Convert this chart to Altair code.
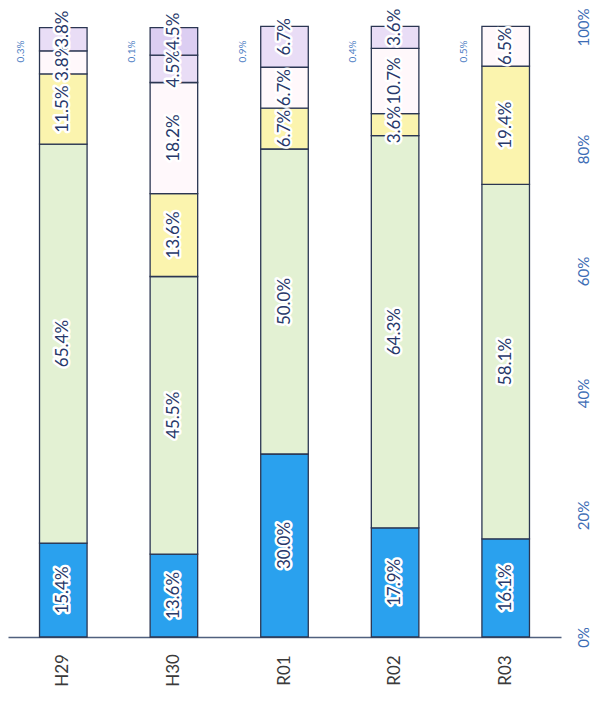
import altair as alt
import pandas as pd

years = ["H29", "H30", "R01", "R02", "R03"]

# segment values (%) from bottom to top, per year
vals_H29 = [15.4, 65.4, 11.5, 3.8, 3.8]
vals_H30 = [13.6, 45.5, 13.6, 18.2, 4.5, 4.5]
vals_R01 = [30.0, 50.0, 6.7, 6.7, 6.7]
vals_R02 = [17.9, 64.3, 3.6, 10.7, 3.6]
vals_R03 = [16.1, 58.1, 19.4, 6.5]

kinds_H29 = ["b", "g", "y", "w", "l"]
kinds_H30 = ["b", "g", "y", "w", "l", "l2"]
kinds_R01 = ["b", "g", "y", "w", "l"]
kinds_R02 = ["b", "g", "y", "w", "l"]
kinds_R03 = ["b", "g", "y", "w"]

small_vals = [0.3, 0.1, 0.9, 0.4, 0.5]

all_vals = [vals_H29, vals_H30, vals_R01, vals_R02, vals_R03]
all_kinds = [kinds_H29, kinds_H30, kinds_R01, kinds_R02, kinds_R03]

rows = []
for yr, vals, ks in zip(years, all_vals, all_kinds):
    cum = 0.0
    for i, (v, k) in enumerate(zip(vals, ks)):
        rows.append(dict(year=yr, kind=k, start=cum, end=cum + v,
                         mid=cum + v / 2, label=f"{v:.1f}%",
                         top=(i == len(vals) - 1 and k != "w")))
        cum += v
df = pd.DataFrame(rows)
df_small = pd.DataFrame({"year": years, "label": [f"{v:.1f}%" for v in small_vals]})

FONT = "Lato"

x_enc = alt.X("year:N", sort=years,
              scale=alt.Scale(paddingInner=0.57, paddingOuter=0.285),
              axis=alt.Axis(title=None, labelAngle=-90, labelAlign="center",
                            labelBaseline="middle", labelPadding=33, ticks=False,
                            domainColor="#50607E", domainWidth=1.5,
                            labelFont=FONT, labelFontSize=17, labelColor="#3a3a3a"))

y_scale = alt.Scale(domain=[0, 100], nice=False)

bars = alt.Chart(df).mark_bar(stroke="#2B3652", strokeWidth=1.3).encode(
    x=x_enc,
    y=alt.Y("start:Q", scale=y_scale,
            axis=alt.Axis(orient="right", values=[0, 20, 40, 60, 80, 100],
                          labelExpr="datum.value + '%'", domain=False, ticks=False,
                          grid=False, labelAngle=-90, labelAlign="center",
                          labelBaseline="middle", labelPadding=22, labelFont=FONT,
                          labelFontSize=15, labelColor="#3D6DB5", title=None)),
    y2="end:Q",
    color=alt.Color("kind:N", legend=None,
                    scale=alt.Scale(domain=["b", "g", "y", "w", "l", "l2"],
                                    range=["#2AA1EE", "#E3F1D3", "#FBF4AE",
                                           "#FFF8FB", "#E9DDF6", "#DCCEF2"])),
)

def labels(data, dx, halo):
    kw = dict(angle=270, align="center", baseline="middle", font=FONT,
              fontSize=17, dx=dx)
    if halo:
        kw.update(stroke="white", strokeWidth=5, strokeJoin="round", fill="white")
    else:
        kw.update(fill="#27386A")
    return alt.Chart(data).mark_text(**kw).encode(
        x=alt.X("year:N", sort=years), y=alt.Y("mid:Q", scale=y_scale),
        text="label:N")

inner = df[~df["top"]]
topd = df[df["top"]]

small = alt.Chart(df_small).mark_text(
    angle=270, align="center", baseline="middle", font=FONT, fontSize=10,
    fill="#4F80C4", dy=-42).encode(
    x=alt.X("year:N", sort=years), y=alt.datum(96), text="label:N")

chart = alt.layer(
    bars,
    labels(inner, 0, True), labels(inner, 0, False),
    labels(topd, 10, True), labels(topd, 10, False),
    small,
).properties(
    width=553, height=610,
    autosize=alt.AutoSizeParams(type="none"),
    padding={"left": 0, "top": 19, "right": 32, "bottom": 58},
    background="white",
).configure_view(stroke=None)

chart.save("out.html", embed_options={"renderer": "svg", "actions": False})
